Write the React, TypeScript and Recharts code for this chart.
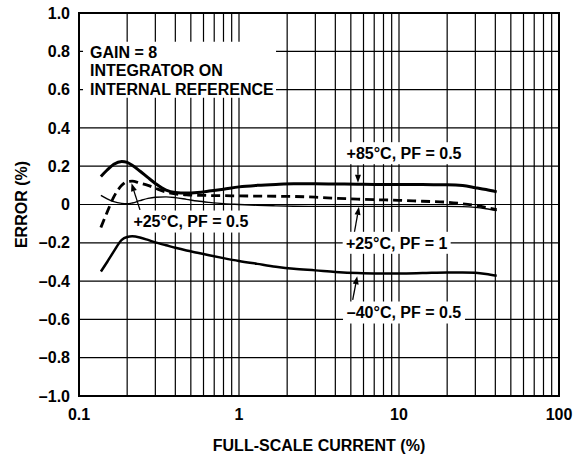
import {
  LineChart,
  Line,
  XAxis,
  YAxis,
  CartesianGrid,
  ReferenceLine,
  ReferenceDot,
  ReferenceArea,
} from 'recharts';

// full-scale current (%), shared sample points for all curves
const CURRENT = [0.137, 0.15, 0.165, 0.185, 0.2, 0.215, 0.24, 0.27, 0.3, 0.35, 0.4, 0.47, 0.55, 0.65, 0.8, 1, 1.3, 1.7, 2.2, 3, 4, 5.5, 7, 10, 14, 20, 25, 30, 35, 40.8];

// error (%)
const ERR_85_PF05 = [0.146, 0.18, 0.21, 0.225, 0.22, 0.205, 0.175, 0.14, 0.11, 0.075, 0.063, 0.06, 0.063, 0.07, 0.08, 0.092, 0.1, 0.105, 0.108, 0.108, 0.107, 0.106, 0.105, 0.105, 0.104, 0.103, 0.099, 0.088, 0.078, 0.066];
const ERR_25_PF05 = [-0.12, -0.04, 0.04, 0.1, 0.12, 0.122, 0.112, 0.1, 0.085, 0.065, 0.055, 0.05, 0.048, 0.047, 0.046, 0.045, 0.044, 0.043, 0.042, 0.038, 0.033, 0.028, 0.025, 0.022, 0.017, 0.012, 0.004, -0.005, -0.015, -0.027];
const ERR_25_PF1 = [0.048, 0.03, 0.015, 0.006, 0.004, 0.008, 0.02, 0.032, 0.038, 0.04, 0.036, 0.027, 0.018, 0.011, 0.004, 0, -0.004, -0.007, -0.009, -0.01, -0.01, -0.01, -0.01, -0.01, -0.01, -0.01, -0.011, -0.015, -0.022, -0.031];
const ERR_M40_PF05 = [-0.35, -0.3, -0.245, -0.185, -0.17, -0.166, -0.172, -0.185, -0.198, -0.213, -0.226, -0.24, -0.252, -0.265, -0.28, -0.295, -0.31, -0.325, -0.336, -0.344, -0.352, -0.358, -0.36, -0.36, -0.358, -0.355, -0.355, -0.357, -0.363, -0.372];

const X_TICKS = [0.1, 0.2, 0.3, 0.4, 0.5, 0.6, 0.7, 0.8, 0.9, 1, 2, 3, 4, 5, 6, 7, 8, 9, 10, 20, 30, 40, 50, 60, 70, 80, 90, 100];
const X_LABELS = ['0.1', '1', '10', '100'];
const Y_TICKS = [-1, -0.8, -0.6, -0.4, -0.2, 0, 0.2, 0.4, 0.6, 0.8, 1];

const rows = CURRENT.map((x, i) => ({
  x,
  t85: ERR_85_PF05[i],
  t25: ERR_25_PF05[i],
  t25pf1: ERR_25_PF1[i],
  tm40: ERR_M40_PF05[i],
}));

const NOTES = [
  { x: 0.1172, y: 0.794, lines: ['GAIN = 8', 'INTEGRATOR ON', 'INTERNAL REFERENCE'], w: 193 },
  { x: 10.75, y: 0.268, lines: ['+85°C, PF = 0.5'], w: 122 },
  { x: 0.5, y: -0.089, lines: ['+25°C, PF = 0.5'], w: 118 },
  { x: 9.67, y: -0.2, lines: ['+25°C, PF = 1'], w: 108 },
  { x: 10.75, y: -0.564, lines: ['–40°C, PF = 0.5'], w: 122 },
];

const ARROWS = [
  [{ x: 5.54, y: 0.202 }, { x: 5.54, y: 0.113 }],
  [{ x: 0.2405, y: -0.028 }, { x: 0.2129, y: 0.111 }],
  [{ x: 5.23, y: -0.158 }, { x: 5.62, y: -0.012 }],
  [{ x: 5.135, y: -0.498 }, { x: 5.48, y: -0.375 }],
];

const fmtX = (v: number) => (X_LABELS.includes(String(v)) ? String(v) : '');
const fmtY = (v: number) => (v === 0 ? '0' : v < 0 ? '–' + Math.abs(v).toFixed(1) : v.toFixed(1));

function NoteBox(props: any) {
  const { cx, cy, lines, w } = props;
  if (lines.length > 1) {
    return (
      <g>
        <rect x={cx - 7} y={cy - 10.7} width={w} height={56} fill="#fff" />
        {lines.map((t: string, i: number) => (
          <text key={i} x={cx} y={cy + 5.7 + i * 18.3} fontSize={16} fontWeight={700} fill="#000">
            {t}
          </text>
        ))}
      </g>
    );
  }
  return (
    <g>
      <rect x={cx - w / 2} y={cy - 11} width={w} height={22} fill="#fff" />
      <text x={cx} y={cy + 5.7} textAnchor="middle" fontSize={16} fontWeight={700} fill="#000">
        {lines[0]}
      </text>
    </g>
  );
}

function Arrow(props: any) {
  const { x1, y1, x2, y2 } = props;
  const dx = x2 - x1;
  const dy = y2 - y1;
  const len = Math.hypot(dx, dy) || 1;
  const ux = dx / len;
  const uy = dy / len;
  const hl = 8;
  const hw = 3;
  const bx = x2 - ux * hl;
  const by = y2 - uy * hl;
  return (
    <g>
      <line x1={x1} y1={y1} x2={bx} y2={by} stroke="#000" strokeWidth={1.3} />
      <polygon
        points={`${x2},${y2} ${bx - uy * hw},${by + ux * hw} ${bx + uy * hw},${by - ux * hw}`}
        fill="#000"
      />
    </g>
  );
}

export default function App() {
  return (
    <div
      style={{
        position: 'absolute',
        left: 0,
        top: 0,
        width: 573,
        height: 454,
        background: '#fff',
        fontFamily: '"Liberation Sans", Arial, Helvetica, sans-serif',
        fontWeight: 700,
      }}
    >
      <LineChart width={573} height={454} data={rows} margin={{ top: 13, right: 14, bottom: 28, left: 0 }}>
        <CartesianGrid stroke="#000" strokeWidth={1.2} />
        <XAxis
          dataKey="x"
          type="number"
          scale="log"
          domain={[0.1, 100]}
          ticks={X_TICKS}
          interval={0}
          tickFormatter={fmtX}
          allowDataOverflow
          height={30}
          tickLine={false}
          axisLine={false}
          tickMargin={7}
          tick={{ fontSize: 16, fontWeight: 700, fill: '#000' }}
          label={{ value: 'FULL-SCALE CURRENT (%)', position: 'bottom', offset: 14, fontSize: 16, fontWeight: 700, fill: '#000' }}
        />
        <YAxis
          type="number"
          domain={[-1, 1]}
          ticks={Y_TICKS}
          interval={0}
          tickFormatter={fmtY}
          width={79}
          tickLine={false}
          axisLine={false}
          tickMargin={3}
          tick={{ fontSize: 16, fontWeight: 700, fill: '#000' }}
          label={{
            value: 'ERROR (%)',
            angle: -90,
            position: 'insideLeft',
            offset: 21,
            style: { textAnchor: 'middle' },
            fontSize: 16,
            fontWeight: 700,
            fill: '#000',
          }}
        />
        <ReferenceArea x1={0.1} x2={100} y1={-1} y2={1} fill="none" fillOpacity={0} stroke="#000" strokeWidth={2} ifOverflow="visible" />
        <Line type="monotone" dataKey="tm40" stroke="#000" strokeWidth={2.5} dot={false} isAnimationActive={false} />
        <Line type="monotone" dataKey="t25pf1" stroke="#000" strokeWidth={1.4} dot={false} isAnimationActive={false} />
        <Line type="monotone" dataKey="t25" stroke="#000" strokeWidth={2.8} strokeDasharray="9 5" dot={false} isAnimationActive={false} />
        <Line type="monotone" dataKey="t85" stroke="#000" strokeWidth={3} dot={false} isAnimationActive={false} />
        {NOTES.map((n, i) => (
          <ReferenceDot
            key={'n' + i}
            x={n.x}
            y={n.y}
            r={1}
            ifOverflow="visible"
            shape={(p: any) => <NoteBox cx={p.cx} cy={p.cy} lines={n.lines} w={n.w} />}
          />
        ))}
        {ARROWS.map((seg, i) => (
          <ReferenceLine key={'a' + i} segment={seg} ifOverflow="visible" shape={(p: any) => <Arrow {...p} />} />
        ))}
      </LineChart>
    </div>
  );
}
